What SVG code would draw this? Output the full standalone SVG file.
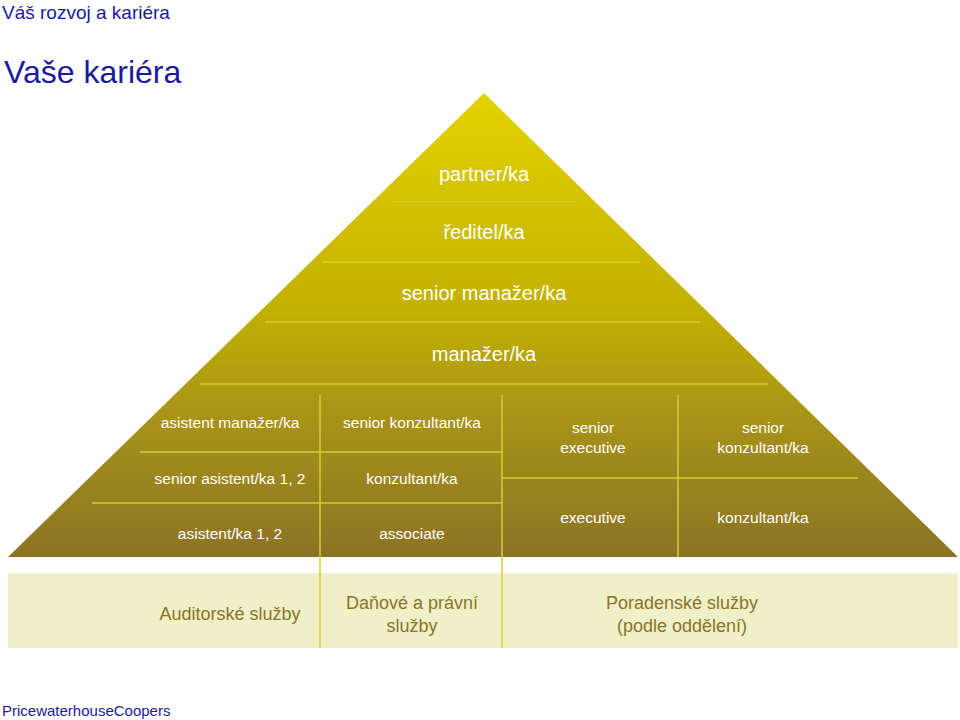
<svg xmlns="http://www.w3.org/2000/svg" width="960" height="720" viewBox="0 0 960 720">
<defs>
<linearGradient id="g" x1="0" y1="93" x2="0" y2="557" gradientUnits="userSpaceOnUse">
<stop offset="0" stop-color="#e2d400"/><stop offset="0.45" stop-color="#c4b200"/><stop offset="0.7" stop-color="#a89318"/><stop offset="1" stop-color="#8c7325"/>
</linearGradient>
<style>
.w{font-family:"Liberation Sans",Arial,sans-serif;fill:#fff;text-anchor:middle}
.b{font-family:"Liberation Sans",Arial,sans-serif;fill:#8a7426;text-anchor:middle;font-size:18px}
.l{stroke:#d8cc30;stroke-width:1.5;fill:none}
</style>
</defs>
<rect width="960" height="720" fill="#fff"/>
<text x="2" y="19" font-family="Liberation Sans,Arial,sans-serif" font-size="19" fill="#1a1aa0">Váš rozvoj a kariéra</text>
<text x="4" y="83" font-family="Liberation Sans,Arial,sans-serif" font-size="32" fill="#1a1aa0">Vaše kariéra</text>
<text x="2" y="716" font-family="Liberation Sans,Arial,sans-serif" font-size="15" fill="#1a1aa0">PricewaterhouseCoopers</text>
<g id="pyramid">
<polygon points="484,93 958,557 8,557" fill="url(#g)"/>
</g>
<rect id="bar" x="8" y="573" width="950" height="75" fill="#f0f0c8"/>
<g id="lines" class="l">
<line x1="392" y1="202" x2="576" y2="202"/>
<line x1="322" y1="262" x2="640" y2="262"/>
<line x1="265" y1="322" x2="700" y2="322"/>
<line x1="200" y1="384" x2="768" y2="384"/>
<line x1="320" y1="395" x2="320" y2="648"/>
<line x1="502" y1="395" x2="502" y2="648"/>
<line x1="678" y1="395" x2="678" y2="557"/>
<line x1="140" y1="452" x2="502" y2="452"/>
<line x1="502" y1="478" x2="858" y2="478"/>
<line x1="92" y1="503" x2="502" y2="503"/>
</g>
<g id="n-top" class="w" font-size="20">
<text x="484" y="181">partner/ka</text>
<text x="484" y="239">ředitel/ka</text>
<text x="484" y="300">senior manažer/ka</text>
<text x="484" y="361">manažer/ka</text>
</g>
<g id="n-cells" class="w" font-size="15.5">
<text x="230" y="428">asistent manažer/ka</text>
<text x="412" y="428">senior konzultant/ka</text>
<text x="230" y="484">senior asistent/ka 1, 2</text>
<text x="412" y="484">konzultant/ka</text>
<text x="230" y="539">asistent/ka 1, 2</text>
<text x="412" y="539">associate</text>
<text x="593" y="433">senior</text>
<text x="593" y="453">executive</text>
<text x="763" y="433">senior</text>
<text x="763" y="453">konzultant/ka</text>
<text x="593" y="523">executive</text>
<text x="763" y="523">konzultant/ka</text>
</g>
<g id="n-bar" class="b">
<text x="230" y="620">Auditorské služby</text>
<text x="412" y="609">Daňové a právní</text>
<text x="412" y="632">služby</text>
<text x="682" y="609">Poradenské služby</text>
<text x="682" y="632">(podle oddělení)</text>
</g>
</svg>
